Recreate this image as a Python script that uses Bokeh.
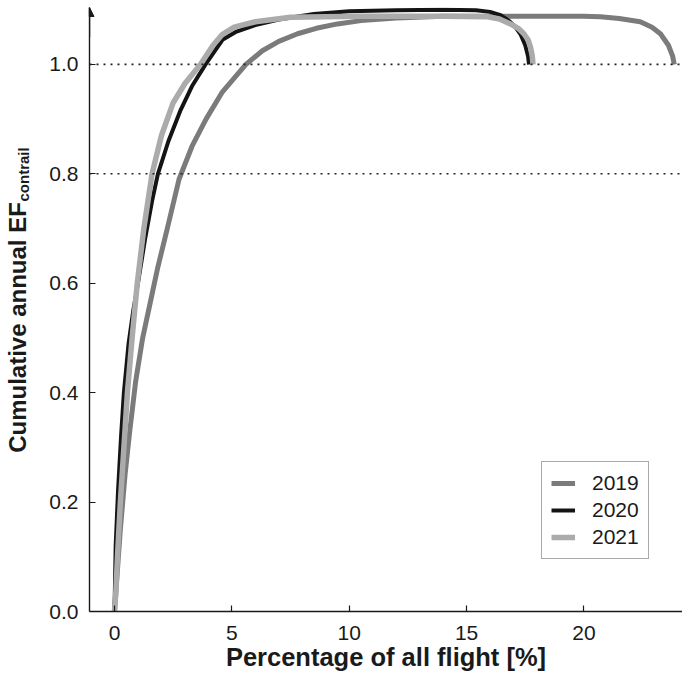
import math
from bokeh.plotting import figure
from bokeh.layouts import row
from bokeh.models import Range1d, FixedTicker, Span, Arrow, NormalHead, Legend, LegendItem
from bokeh.core.properties import value
from bokeh.embed import file_html
from bokeh.resources import INLINE

# ---- data ----
years = ["2019", "2020", "2021"]

x_2019 = [0, 0.1, 0.25, 0.45, 0.65, 0.9, 1.2, 1.5, 1.85, 2.25, 2.75, 3.3, 3.9, 4.6, 5.6, 6.3, 7.0, 7.8, 8.6,
          9.5, 10.5, 12, 14, 16, 18, 20, 20.7, 21.5, 22.4, 22.9, 23.26, 23.6, 23.78, 23.85]
y_2019 = [0, 0.06, 0.15, 0.25, 0.33, 0.42, 0.5, 0.56, 0.63, 0.7, 0.79, 0.85, 0.9, 0.95, 1.0, 1.025, 1.042, 1.056, 1.066,
          1.074, 1.08, 1.085, 1.088, 1.088, 1.088, 1.088, 1.087, 1.084, 1.078, 1.068, 1.056, 1.035, 1.015, 1.0]

x_2020 = [0, 0.05, 0.15, 0.28, 0.4, 0.6, 0.8, 1.0, 1.3, 1.6, 1.85, 2.3, 2.8, 3.3, 3.88, 4.6, 5.2, 6.0, 7.0,
          8.5, 10, 12, 14, 15.4, 16.0, 16.45, 16.8, 17.05, 17.3, 17.5, 17.62, 17.66]
y_2020 = [0, 0.12, 0.22, 0.32, 0.4, 0.49, 0.55, 0.6, 0.68, 0.75, 0.8, 0.86, 0.915, 0.96, 1.0, 1.045, 1.06, 1.072, 1.082,
          1.092, 1.097, 1.099, 1.1, 1.099, 1.096, 1.09, 1.08, 1.07, 1.055, 1.035, 1.015, 1.0]

x_2021 = [0, 0.05, 0.15, 0.25, 0.4, 0.55, 0.75, 0.97, 1.25, 1.6, 2.0, 2.5, 3.0, 3.66, 4.2, 4.6, 5.1, 6.0, 7.5,
          9, 10.5, 12, 14, 15.9, 16.4, 16.87, 17.2, 17.44, 17.62, 17.72, 17.8, 17.83]
y_2021 = [0, 0.03, 0.12, 0.2, 0.3, 0.4, 0.5, 0.6, 0.7, 0.8, 0.87, 0.93, 0.965, 1.0, 1.035, 1.055, 1.068, 1.078, 1.086,
          1.087, 1.088, 1.088, 1.088, 1.087, 1.083, 1.074, 1.066, 1.056, 1.045, 1.032, 1.015, 1.0]

x_ticks = [0, 5, 10, 15, 20]
y_ticks = [0.0, 0.2, 0.4, 0.6, 0.8, 1.0]
y_tick_labels = ["0.0", "0.2", "0.4", "0.6", "0.8", "1.0"]
ref_lines = [1.0, 0.8]

x_title = "Percentage of all flight [%]"
y_title = "Cumulative annual EF"
y_sub = "contrail"

colors = ["#7b7b7b", "#141414", "#ababab"]
widths = [5, 4, 5.5]

FONT = "Liberation Sans"
INK = "#1a1a1a"

X0, X1 = -1.065, 24.2
Y0, Y1 = 0.0, 1.104

LABEL_W = 40
TOTAL_W, TOTAL_H = 682, 680
TOP, BOTTOM = 7, 69          # borders shared by both panels (frames are aligned in the row)

# ---- narrow panel carrying the rotated y title (data units = pixels, y up) ----
lab = figure(width=LABEL_W, height=TOTAL_H, output_backend="svg", toolbar_location=None,
             x_range=Range1d(0, LABEL_W), y_range=Range1d(BOTTOM, TOTAL_H - TOP),
             x_axis_type=None, y_axis_type=None,
             min_border_left=0, min_border_right=0, min_border_top=TOP, min_border_bottom=BOTTOM)
lab.title = None
lab.outline_line_color = None
lab.grid.visible = False
lab.text(x=[17], y=[TOTAL_H - 327], text=[y_title], angle=math.pi / 2, text_align="center",
         text_baseline="alphabetic", text_font=value(FONT), text_font_style="bold",
         text_font_size="24px", text_color=INK)
lab.text(x=[23], y=[TOTAL_H - 201], text=[y_sub], angle=math.pi / 2, text_align="left",
         text_baseline="alphabetic", text_font=value(FONT), text_font_style="bold",
         text_font_size="15px", text_color=INK)

# ---- main plot ----
p = figure(width=TOTAL_W - LABEL_W, height=TOTAL_H, output_backend="svg", toolbar_location=None,
           x_range=Range1d(X0, X1), y_range=Range1d(Y0, Y1),
           min_border_left=89 - LABEL_W, min_border_right=0, min_border_top=TOP, min_border_bottom=BOTTOM)
p.outline_line_color = None
p.grid.visible = False

for ax, ticks in ((p.xaxis, x_ticks), (p.yaxis, y_ticks)):
    ax.ticker = FixedTicker(ticks=ticks)
    ax.major_tick_in = 6
    ax.major_tick_out = 0
    ax.minor_tick_line_color = None
    ax.axis_line_color = INK
    ax.axis_line_width = 1.4
    ax.major_tick_line_color = INK
    ax.major_tick_line_width = 1.2
    ax.major_label_text_font = FONT
    ax.major_label_text_font_size = "21px"
    ax.major_label_text_color = INK

p.xaxis.major_label_standoff = 14
p.yaxis.major_label_standoff = 11
p.yaxis.major_label_overrides = {t: l for t, l in zip(y_ticks, y_tick_labels)}

p.xaxis.axis_label = x_title
p.xaxis.axis_label_text_font = FONT
p.xaxis.axis_label_text_font_style = "bold"
p.xaxis.axis_label_text_font_size = "25.5px"
p.xaxis.axis_label_text_color = INK
p.xaxis.axis_label_standoff = 0

for yv in ref_lines:
    p.add_layout(Span(location=yv, dimension="width", line_color="#222222",
                      line_width=1.6, line_dash="2 5"))

xs = [x_2019, x_2020, x_2021]
ys = [y_2019, y_2020, y_2021]
renderers = []
for i in range(3):
    r = p.line(xs[i], ys[i], line_color=colors[i], line_width=widths[i], line_join="round")
    renderers.append(r)

legend = Legend(items=[LegendItem(label=years[i], renderers=[renderers[i]]) for i in range(3)],
                location=(452, 52))
legend.label_text_font = FONT
legend.label_text_font_size = "21px"
legend.label_text_color = INK
legend.glyph_width = 24
legend.glyph_height = 24
legend.label_height = 24
legend.label_standoff = 17
legend.spacing = 3
legend.padding = 9
legend.margin = 0
legend.border_line_color = "#555555"
legend.border_line_width = 1
legend.background_fill_alpha = 1
p.add_layout(legend, "center")

# arrow head on the y axis
p.add_layout(Arrow(end=NormalHead(size=9, fill_color=INK, line_color=INK),
                   x_start=X0, y_start=1.05, x_end=X0, y_end=Y1,
                   line_color=INK, line_width=1.4))

layout = row(lab, p, spacing=0)
open("out.html", "w").write(file_html(layout, INLINE))
